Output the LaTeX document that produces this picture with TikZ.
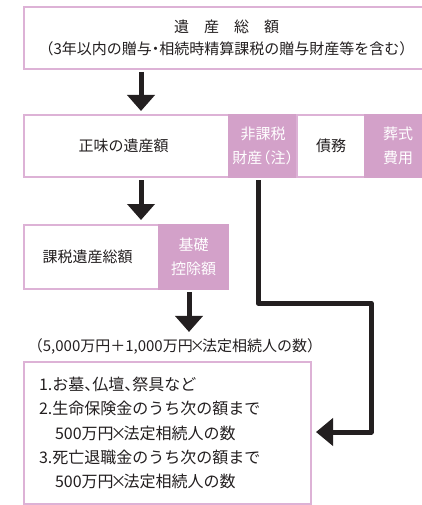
\documentclass[tikz,border=0pt]{standalone}
\usepackage{fontspec}
\setmainfont{Noto Sans CJK JP}
\usetikzlibrary{arrows.meta,calc}
\definecolor{pk}{HTML}{D3A1C9}
\definecolor{pkline}{HTML}{DDB2D6}
\definecolor{ink}{HTML}{231F20}
\newcommand{\jtn}{\makebox[0.5em][l]{、}}
\newcommand{\jdot}{\makebox[0.5em][c]{・}}
\newcommand{\jlp}{\makebox[0.55em][r]{（}}
\newcommand{\jrp}{\makebox[0.55em][l]{）}}
\newcommand{\jx}{\makebox[0.62em][c]{×}}
\begin{document}
\begin{tikzpicture}[x=1pt,y=-1pt,
  font=\fontsize{15}{22}\selectfont, text=ink,
  wcell/.style={anchor=north west, inner sep=0pt, outer sep=0pt, draw=pkline, line width=1.3pt, fill=white, align=center},
  pcell/.style={anchor=north west, inner sep=0pt, outer sep=0pt, fill=pk, draw=pk, line width=1.3pt, text=white, align=center, font=\fontsize{15}{24}\selectfont},
  bigarrow/.style={draw=ink, line width=5pt, -{Triangle[width=27pt,length=16pt]}},
  elbow/.style={draw=ink, line width=5pt, line join=round, -{Triangle[width=27pt,length=17pt]}}
]
\useasboundingbox (0,0) rectangle (421,505);
% top box
\node[wcell, minimum width=405pt, minimum height=62pt] (top) at (24,7)
  {遺　産　総　額\\（3年以内の贈与\jdot 相続時精算課税の贈与財産等を含む）};
% second row
\node[wcell, minimum width=205pt, minimum height=62pt] (w1) at (24,115) {正味の遺産額\hspace*{6pt}};
\node[pcell, minimum width=68pt, minimum height=62pt] (p1) at (229,115) {非課税\\財産\jlp 注\jrp};
\node[wcell, minimum width=68pt, minimum height=62pt] (w2) at (297,115) {債務};
\node[pcell, minimum width=66pt, minimum height=62pt] (p2) at (365,115) {葬式\\費用};
% third row
\node[wcell, minimum width=135pt, minimum height=64pt] (w3) at (24,225) {課税遺産総額\hspace*{8pt}};
\node[pcell, minimum width=69pt, minimum height=64pt] (p3) at (159,225) {基礎\\控除額};
% formula
\node[inner sep=0pt] (formula) at (175,347) {\jlp 5,000万円＋1,000万円\jx 法定相続人の数\jrp};
% bottom box
\node[wcell, anchor=north west, minimum width=287pt, minimum height=142pt,
  text width=257pt, align=left, font=\fontsize{16}{24.3}\selectfont] (list) at (24,362)
  {1.お墓\jtn 仏壇\jtn 祭具など\\
   2.生命保険金のうち次の額まで\\
   \hspace*{16pt}500万円\jx 法定相続人の数\\
   3.死亡退職金のうち次の額まで\\
   \hspace*{16pt}500万円\jx 法定相続人の数};
% arrow helper coordinates
\coordinate (a1) at (141,0);
\coordinate (a3) at (189,0);
\coordinate (e0) at (258,0);
\coordinate (e1) at (258,303);
\coordinate (e2) at (371,303);
\coordinate (e3) at (371,432);
% arrows
\draw[bigarrow, shorten <=3pt, shorten >=4pt] (top.south -| a1) -- (w1.north -| a1);
\draw[bigarrow, shorten <=3pt, shorten >=5pt] (w1.south -| a1) -- (w3.north -| a1);
\draw[bigarrow, shorten <=3pt, shorten >=7pt] (p3.south -| a3) -- (formula.north -| a3);
\draw[elbow, shorten <=3pt, shorten >=5pt] (p1.south -| e0) -- (e1) -- (e2) -- (e3) -- (e3 -| list.east);
\end{tikzpicture}
\end{document}
